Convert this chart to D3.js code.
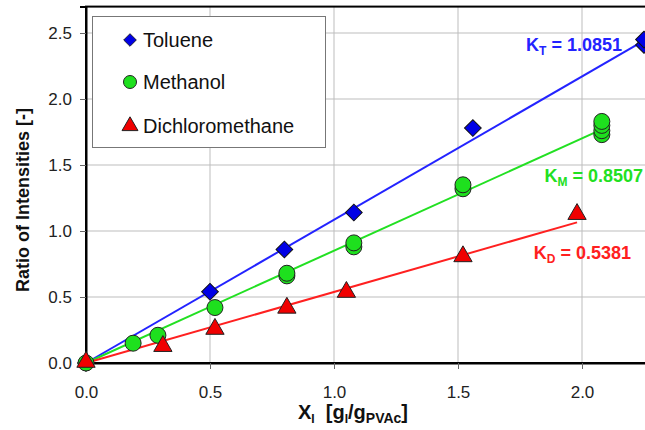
<!DOCTYPE html>
<html><head><meta charset="utf-8">
<script src="https://cdn.jsdelivr.net/npm/d3@7"></script>
<style>
body{margin:0;background:#fff;}
svg{display:block;font-family:"Liberation Sans",Arial,sans-serif;}
</style></head>
<body>
<svg id="c" width="645" height="430"></svg>
<script>
// Data
const xTicks = [0.0, 0.5, 1.0, 1.5, 2.0];
const yTicks = [0.0, 0.5, 1.0, 1.5, 2.0, 2.5];
const tolueneX = [0, 0.50, 0.80, 1.08, 1.56, 2.25, 2.25];
const tolueneY = [0, 0.54, 0.86, 1.14, 1.78, 2.41, 2.45];
const methanolX = [0, 0.19, 0.29, 0.52, 0.81, 0.81, 1.08, 1.08, 1.52, 1.52, 2.08, 2.08, 2.08, 2.08];
const methanolY = [0, 0.15, 0.21, 0.42, 0.66, 0.68, 0.88, 0.91, 1.32, 1.35, 1.73, 1.76, 1.80, 1.83];
const dcmX = [0, 0.31, 0.52, 0.81, 1.05, 1.52, 1.98];
const dcmY = [0, 0.12, 0.25, 0.41, 0.53, 0.80, 1.12];
const slopes = {T: 1.0851, M: 0.8507, D: 0.5381};
const fitEnds = {T: 2.25, M: 2.08, D: 1.98};
const legendLabels = ["Toluene", "Methanol", "Dichloromethane"];

const svg = d3.select("#c");
const x0 = 86, xUnit = 248, y0 = 363, yUnit = 132;
const x = d3.scaleLinear().domain([0, 2.5]).range([x0, x0 + 2.5 * xUnit]);
const y = d3.scaleLinear().domain([0, 2.7]).range([y0, y0 - 2.7 * yUnit]);

const yTop = y(2.7), xRight = x(2.5);

// grid
const g = svg.append("g");
g.selectAll("line.vg").data(xTicks.slice(1)).join("line")
  .attr("x1", d => x(d)).attr("x2", d => x(d)).attr("y1", yTop).attr("y2", y0)
  .attr("stroke", "#bdbdbd").attr("stroke-width", 1);
g.selectAll("line.hg").data(yTicks.slice(1)).join("line")
  .attr("y1", d => y(d)).attr("y2", d => y(d)).attr("x1", x0).attr("x2", xRight)
  .attr("stroke", "#bdbdbd").attr("stroke-width", 1);

// frame
svg.append("rect").attr("x", x0).attr("y", yTop).attr("width", xRight - x0).attr("height", y0 - yTop)
  .attr("fill", "none").attr("stroke", "#000").attr("stroke-width", 2);

// axes
const xAxis = d3.axisBottom(x).tickValues(xTicks).tickFormat(d3.format(".1f")).tickSize(6).tickPadding(17);
const yAxis = d3.axisLeft(y).tickValues(yTicks).tickFormat(d3.format(".1f")).tickSize(6).tickPadding(8);
const gx = svg.append("g").attr("transform", `translate(0,${y0})`).call(xAxis);
const gy = svg.append("g").attr("transform", `translate(${x0},0)`).call(yAxis);
[gx, gy].forEach(a => {
  a.select(".domain").attr("stroke", "#000").attr("stroke-width", 2);
  a.selectAll(".tick line").attr("stroke", "#666");
  a.selectAll(".tick text").attr("font-size", 17).attr("fill", "#222").attr("font-family", "Liberation Sans, Arial, sans-serif");
});

// fit lines
const fits = [
  {k: "T", color: "#2323ff"},
  {k: "M", color: "#22e022"},
  {k: "D", color: "#ff2020"}
];
svg.selectAll("line.fit").data(fits).join("line")
  .attr("x1", x(0)).attr("y1", y(0))
  .attr("x2", d => x(fitEnds[d.k])).attr("y2", d => y(fitEnds[d.k] * slopes[d.k]))
  .attr("stroke", d => d.color).attr("stroke-width", 2);

// markers
const mk = svg.append("g");
const dcmPts = dcmX.map((v, i) => [v, dcmY[i]]);
const mePts = methanolX.map((v, i) => [v, methanolY[i]]);
const toPts = tolueneX.map((v, i) => [v, tolueneY[i]]);
const tri = d3.symbol().type(d3.symbolTriangle).size(145)();
const sq = d3.symbol().type(d3.symbolSquare).size(140)();
mk.selectAll("path.to").data(toPts).join("path")
  .attr("d", sq).attr("transform", d => `translate(${x(d[0])},${y(d[1])}) rotate(45)`)
  .attr("fill", "#0000e6").attr("stroke", "#111").attr("stroke-width", 1);
mk.selectAll("circle.me").data(mePts).join("circle")
  .attr("cx", d => x(d[0])).attr("cy", d => y(d[1])).attr("r", 8)
  .attr("fill", "#1ee01e").attr("stroke", "#222").attr("stroke-width", 1);
mk.selectAll("path.dc").data(dcmPts).join("path")
  .attr("d", tri).attr("transform", d => `translate(${x(d[0])},${y(d[1]) - 1})`)
  .attr("fill", "#f00000").attr("stroke", "#222").attr("stroke-width", 1);

// annotations
const ann = [
  {sub: "T", val: "1.0851", color: "#2323ff", ax: 622, ay: 51},
  {sub: "M", val: "0.8507", color: "#22e022", ax: 643, ay: 182},
  {sub: "D", val: "0.5381", color: "#ff2020", ax: 631, ay: 259}
];
ann.forEach(a => {
  const t = svg.append("text").attr("x", a.ax).attr("y", a.ay).attr("text-anchor", "end")
    .attr("font-size", 18).attr("font-weight", "bold").attr("fill", a.color);
  t.append("tspan").text("K");
  t.append("tspan").attr("font-size", 12).attr("dy", 4).text(a.sub);
  t.append("tspan").attr("dy", -4).text(" = " + a.val);
});

// legend
const lg = svg.append("g");
lg.append("rect").attr("x", 92.5).attr("y", 16.5).attr("width", 233).attr("height", 131)
  .attr("fill", "#fff").attr("stroke", "#777").attr("stroke-width", 1);
const lgY = [40, 82, 126];
legendLabels.forEach((lab, i) => {
  const cx = 130, cy = lgY[i];
  if (i === 0) lg.append("path").attr("d", d3.symbol().type(d3.symbolSquare).size(80)())
    .attr("transform", `translate(${cx},${cy}) rotate(45)`).attr("fill", "#0000e6").attr("stroke", "#111").attr("stroke-width", 0.8);
  if (i === 1) lg.append("circle").attr("cx", cx).attr("cy", cy).attr("r", 6.5)
    .attr("fill", "#1ee01e").attr("stroke", "#222").attr("stroke-width", 1);
  if (i === 2) lg.append("path").attr("d", d3.symbol().type(d3.symbolTriangle).size(110)())
    .attr("transform", `translate(${cx},${cy})`).attr("fill", "#f00000").attr("stroke", "#222").attr("stroke-width", 1);
  lg.append("text").attr("x", 143).attr("y", cy + 7).attr("font-size", 20).attr("fill", "#111").text(lab);
});

// axis titles
svg.append("text").attr("transform", `translate(29,200) rotate(-90)`)
  .attr("text-anchor", "middle").attr("font-size", 18).attr("font-weight", "bold").attr("fill", "#111")
  .text("Ratio of Intensities [-]");
const xt = svg.append("text").attr("x", 353).attr("y", 419).attr("text-anchor", "middle")
  .attr("font-size", 20).attr("font-weight", "bold").attr("fill", "#111");
xt.append("tspan").text("X");
xt.append("tspan").attr("font-size", 12).attr("dy", 4).text("I");
xt.append("tspan").attr("dy", -4).text("\u00a0\u00a0[g");
xt.append("tspan").attr("font-size", 12).attr("dy", 4).text("I");
xt.append("tspan").attr("dy", -4).text("/g");
xt.append("tspan").attr("font-size", 14).attr("dy", 4).text("PVAc");
xt.append("tspan").attr("dy", -4).text("]");
</script>
</body></html>
